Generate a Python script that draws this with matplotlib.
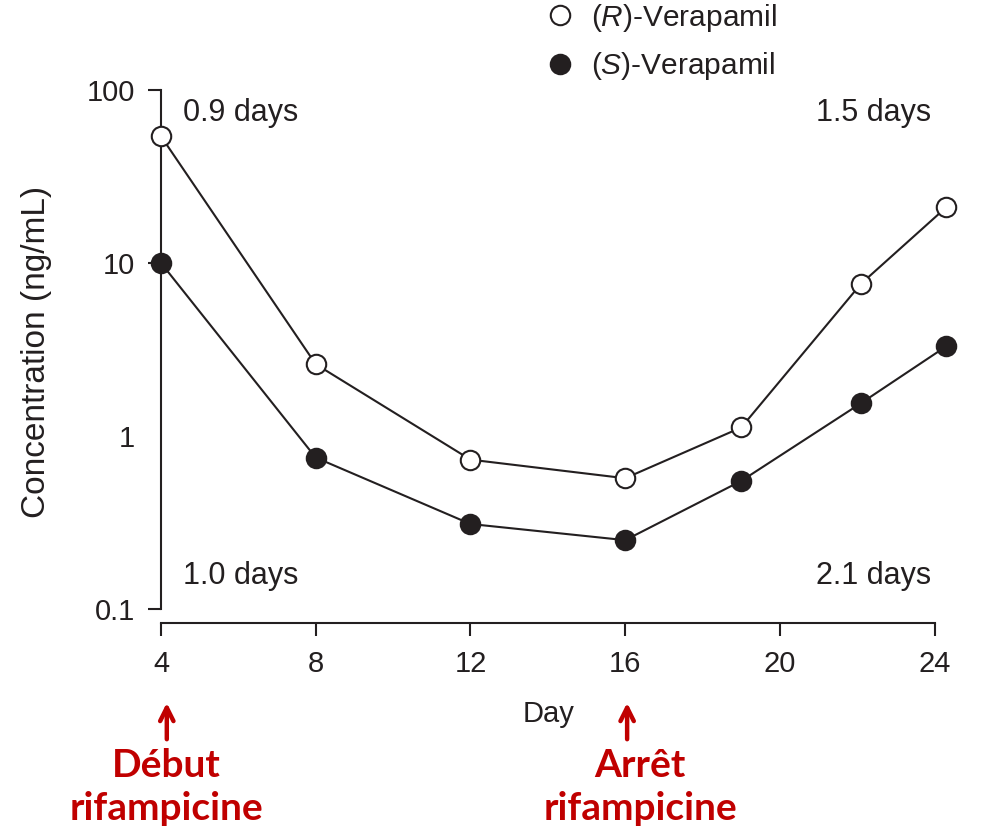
import matplotlib
matplotlib.use('Agg')
import matplotlib.pyplot as plt
from matplotlib.lines import Line2D

plt.rcParams['font.family'] = 'Liberation Sans'
plt.rcParams['mathtext.fontset'] = 'custom'
plt.rcParams['mathtext.rm'] = 'Liberation Sans'
plt.rcParams['mathtext.it'] = 'Liberation Sans:italic'

# plasma concentrations of the two enantiomers (ng/mL) by study day
days = [4, 8, 12, 16, 19, 22.1, 24.3]
r_conc = [54, 2.6, 0.73, 0.57, 1.12, 7.6, 21]
s_conc = [10, 0.75, 0.31, 0.25, 0.55, 1.55, 3.3]

x_ticks = [4, 8, 12, 16, 20, 24]
y_ticks = [0.1, 1, 10, 100]
y_labels = ['0.1', '1', '10', '100']

ink = '#231f20'
red = '#c00000'

W, H = 982, 832
fig = plt.figure(figsize=(W / 100, H / 100), dpi=100)
ax = fig.add_axes([161 / W, 1 - 609 / H, (954 - 161) / W, (609 - 90) / H])

style = dict(color=ink, lw=1.5, marker='o', ms=14, mec=ink, mew=1.5,
             clip_on=False, zorder=3)
ax.plot(days, r_conc, mfc='white', **style)
ax.plot(days, s_conc, mfc=ink, **style)

ax.set_yscale('log')
ax.set_ylim(0.1, 100)
ax.set_xlim(4, 24.5)
ax.set_yticks(y_ticks)
ax.set_yticklabels(y_labels)
ax.set_yticks([], minor=True)
ax.set_xticks(x_ticks)

for side in ['top', 'right']:
    ax.spines[side].set_visible(False)
for side in ['left', 'bottom']:
    ax.spines[side].set_linewidth(1.5)
    ax.spines[side].set_color(ink)
ax.spines['bottom'].set_position(('outward', 10))
ax.spines['bottom'].set_bounds(4, 24)

ax.tick_params(direction='out', length=9.5, width=1.5, color=ink,
               labelsize=21, labelcolor=ink)
ax.tick_params(axis='x', pad=10)
ax.tick_params(axis='y', pad=9)
# no tick mark at 1, only the label
ax.yaxis.get_major_ticks()[1].tick1line.set_visible(False)

ax.set_xlabel('Day', fontsize=21, color=ink, va='center')
ax.xaxis.set_label_coords((549 - 161) / 793, (609 - 714) / 519)
ax.set_ylabel('Concentration (ng/mL)', fontsize=24, color=ink, va='center')
ax.yaxis.set_label_coords((37 - 161) / 793, (609 - 352) / 519)

# half-lives
ax.text(0.028, 0.956, '0.9 days', transform=ax.transAxes, fontsize=22,
        color=ink, ha='left', va='center')
ax.text(0.028, 0.064, '1.0 days', transform=ax.transAxes, fontsize=22,
        color=ink, ha='left', va='center')
ax.text(0.971, 0.956, '1.5 days', transform=ax.transAxes, fontsize=22,
        color=ink, ha='right', va='center')
ax.text(0.971, 0.064, '2.1 days', transform=ax.transAxes, fontsize=22,
        color=ink, ha='right', va='center')

handles = [
    Line2D([], [], ls='none', marker='o', ms=14, mfc='white', mec=ink, mew=1.5),
    Line2D([], [], ls='none', marker='o', ms=14, mfc=ink, mec=ink, mew=1.5),
]
labels = [r'($\mathit{R}$)-Verapamil', r'($\mathit{S}$)-Verapamil']
fig.legend(handles, labels, loc='center left',
           bbox_to_anchor=(545 / W, 1 - 42 / H), frameon=False, fontsize=21.5,
           handlelength=1, handletextpad=0.55, borderpad=0, borderaxespad=0,
           labelspacing=0.55, labelcolor=ink)

# rifampicin start / stop markers
for day, label, tx in [(4.15, 'Début\nrifampicine', 166),
                       (16.05, 'Arrêt\nrifampicine', 640)]:
    ax.annotate('', xy=(day, 1 - 700 / H), xycoords=('data', 'figure fraction'),
                xytext=(day, 1 - 742 / H), textcoords=('data', 'figure fraction'),
                arrowprops=dict(arrowstyle='->', color=red, lw=3.2,
                                mutation_scale=24))
    fig.text(tx / W, 1 - 787 / H, label, ha='center', va='center',
             family='Lato', weight='bold', fontsize=28, color=red,
             linespacing=1.3)

fig.savefig('out.png', dpi=100)
